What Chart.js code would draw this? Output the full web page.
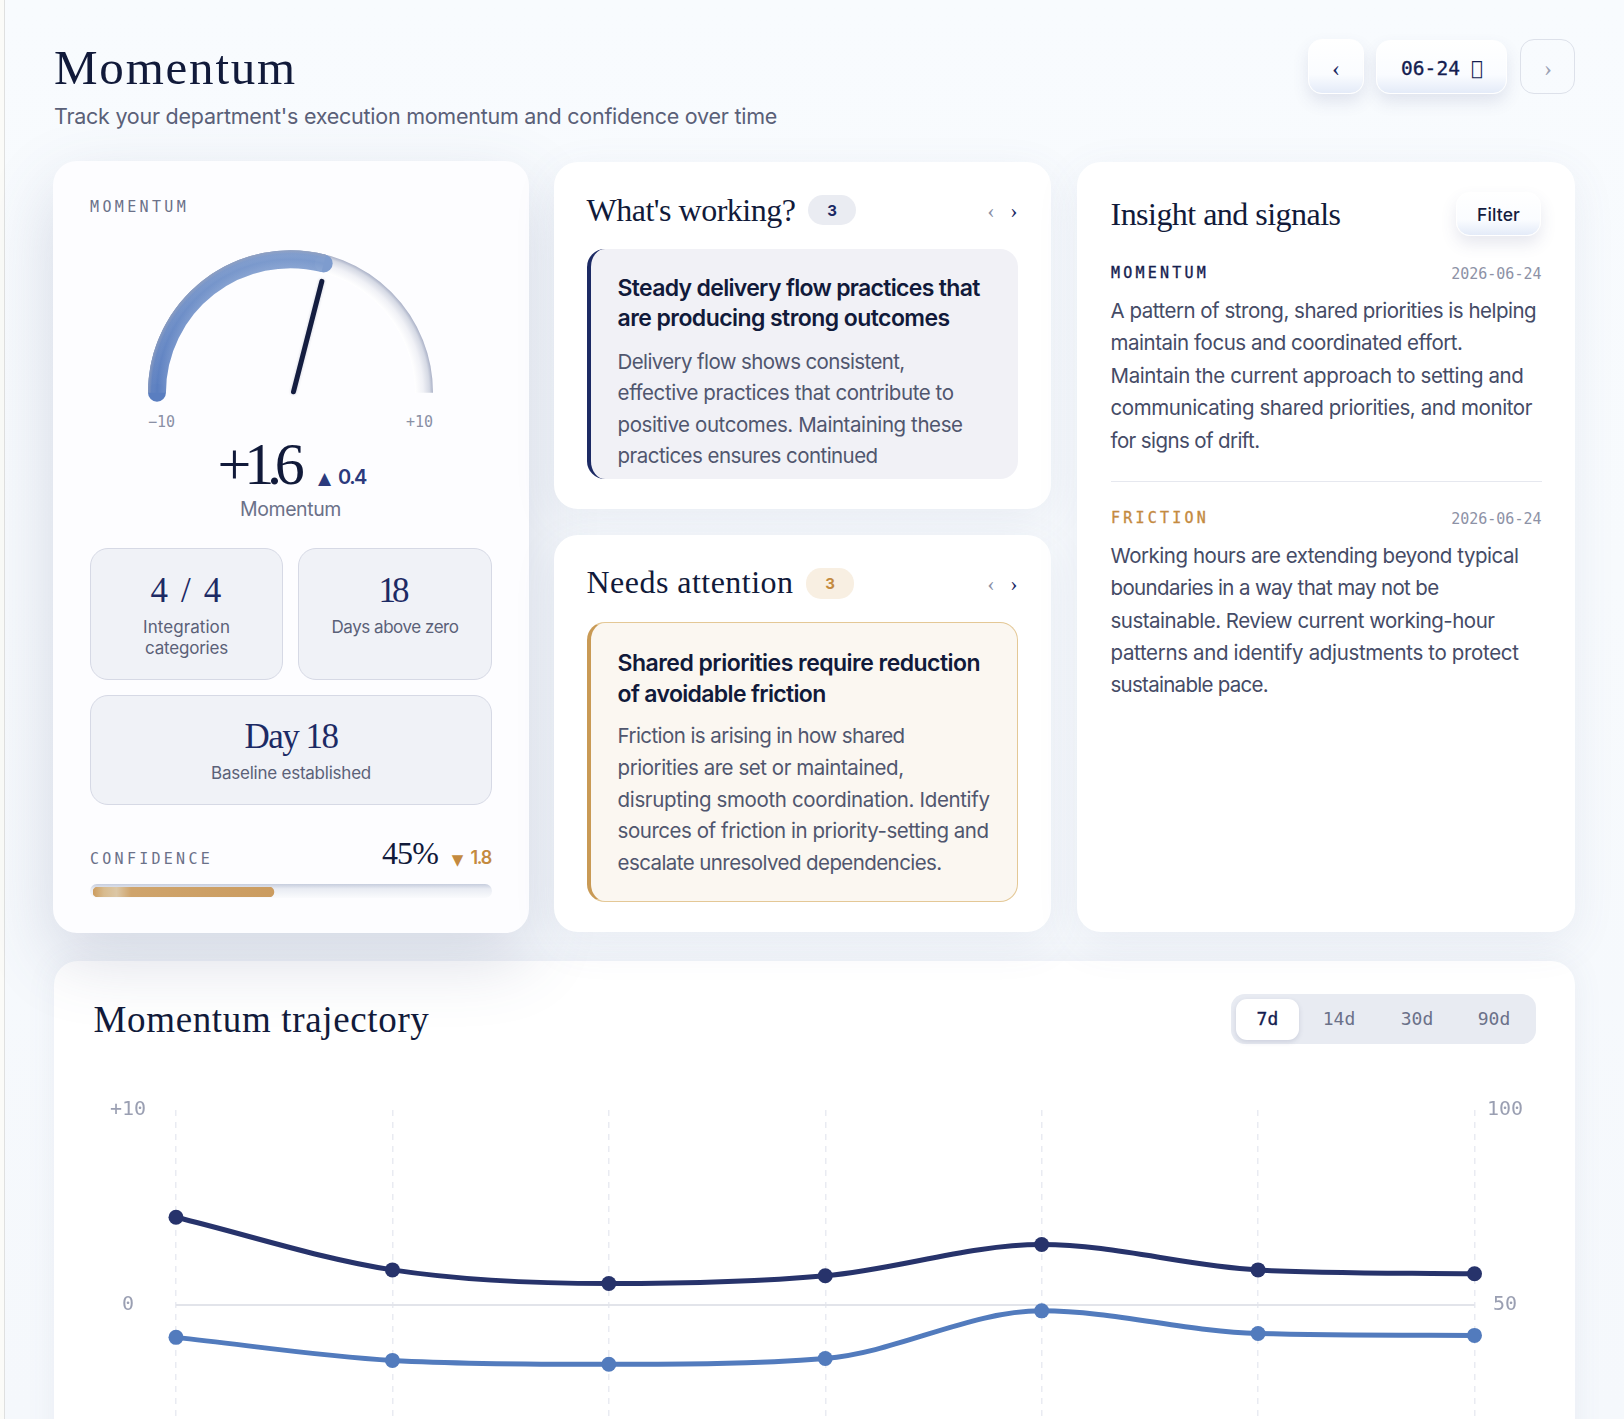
<!DOCTYPE html>
<html><head><meta charset="utf-8">
<script src="https://cdn.jsdelivr.net/npm/chart.js@4"></script>
<style>
html,body{margin:0;padding:0;width:1624px;height:1419px;overflow:hidden;background:#f8fbfe}
#page{position:relative;width:1624px;height:1419px;overflow:hidden;background:linear-gradient(#f8fbfe 0,#f7fafd 40%,#f5f8fc 100%)}
.box{position:absolute;box-sizing:border-box}
.card{background:#fff;border-radius:24px;box-shadow:0 12px 44px rgba(90,100,140,.09)}
.stat{background:#f0f2f7;border:1px solid #d6d9e5;border-radius:18px}
.btn{background:linear-gradient(#fff 0,#fafcff 65%,#e4ebf8 100%);border:1px solid #fff;border-radius:14px;box-shadow:0 8px 16px rgba(70,80,130,.13)}
.t{position:absolute;white-space:nowrap;line-height:normal}
canvas{position:absolute;display:block}
</style></head><body><div id="page">
<div class="box" style="left:0;top:0;width:5px;height:1419px;background:#fbfbf8;border-right:1px solid #dfe0e0"></div>
<div class="box card" style="left:54px;top:961px;width:1521px;height:500px;box-shadow:0 0 30px rgba(90,100,140,.08)"></div>
<div class="box card" style="left:53px;top:161px;width:476px;height:772px;background:#fdfdff;box-shadow:0 26px 70px rgba(70,80,125,.2)"></div>
<div class="box card" style="left:554px;top:162px;width:497px;height:347px"></div>
<div class="box card" style="left:554px;top:535px;width:497px;height:397px"></div>
<div class="box card" style="left:1077px;top:162px;width:498px;height:770px"></div>
<div class="box btn" style="left:1308px;top:39px;width:56px;height:55px"></div>
<div class="box btn" style="left:1376px;top:40px;width:131px;height:54px"></div>
<div class="box" style="left:1520px;top:39px;width:55px;height:55px;border:1px solid #dde1ea;border-radius:14px"></div>
<div class="box stat" style="left:90px;top:548px;width:193px;height:132px"></div>
<div class="box stat" style="left:298px;top:548px;width:194px;height:132px"></div>
<div class="box stat" style="left:90px;top:695px;width:402px;height:110px"></div>
<div class="box" style="left:90px;top:884px;width:402px;height:14px;border-radius:7px;background:linear-gradient(#c6cddd 0,#e9ecf3 35%,#fafbfd 100%)"></div>
<div class="box" style="left:587px;top:249px;width:431px;height:230px;background:#f1f1f6;border-left:4px solid #1c2a64;border-radius:18px"></div>
<div class="box" style="left:587px;top:622px;width:431px;height:280px;background:#fbf7f1;border:1px solid #e4c896;border-left:4px solid #c99a55;border-radius:18px"></div>
<div class="box" style="left:808px;top:195px;width:48px;height:30px;border-radius:15px;background:#eaecf2"></div>
<div class="box" style="left:806px;top:568px;width:48px;height:31px;border-radius:15px;background:#f8efe2"></div>
<div class="box btn" style="left:1456px;top:192px;width:85px;height:44px"></div>
<div class="box" style="left:1111px;top:481px;width:431px;height:1px;background:#e6e8ef"></div>
<div class="box" style="left:1231px;top:994px;width:305px;height:50px;border-radius:14px;background:#e8ebf2"></div>
<div class="box" style="left:1236px;top:999px;width:63px;height:41px;border-radius:11px;background:#fff;box-shadow:0 2px 5px rgba(60,70,110,.16)"></div>
<canvas id="gauge"  width="285" height="153" style="left:148px;top:250px;width:285px;height:153px"></canvas>
<canvas id="confBar" width="402" height="10" style="left:93px;top:887px;width:402px;height:10px"></canvas>
<canvas id="traj" width="1413" height="474" style="left:110px;top:1068px;width:1413px;height:474px"></canvas>
</div>
<script>
// ---------- chart data ----------
const dayLabels      = ['06-18','06-19','06-20','06-21','06-22','06-23','06-24'];
const momentumSeries = [4.5, 1.8, 1.1, 1.5, 3.1, 1.8, 1.6];
const confidenceSeries = [41.7, 35.8, 34.8, 36.3, 48.5, 42.7, 42.2];
const leftTicks  = {'10':'+10','0':'0','-10':'\u221210'};
const rightTicks = {'100':'100','50':'50','0':'0'};
const gaugeValue = 1.6, gaugeMin = -10, gaugeMax = 10;
const confidenceValue = [45];
const confidenceCategory = ['Confidence'];

// ---------- text ----------
const SERIF='"Liberation Serif"', SANS='Inter', MONO='"DejaVu Sans Mono"';
const page=document.getElementById('page');
const mctx=document.createElement('canvas').getContext('2d');
// x = left edge (or centre with a:'c', right edge with a:'r'), b = baseline, w = target width
function T(s,x,b,size,fam,col,o={}){
  const wt=o.weight||400, el=document.createElement('div');
  el.className='t'; el.textContent=s;
  const font=wt+' '+size+'px '+fam;
  mctx.font=font; const m=mctx.measureText(s);
  let ls=0,w=m.width;
  if(o.w){ls=(o.w-m.width)/s.length;w=o.w;}
  const left=o.a==='c'?x-w/2:(o.a==='r'?x-w:x);
  el.style.cssText+=`left:${left}px;top:${b-m.fontBoundingBoxAscent}px;font:${font};color:${col};letter-spacing:${ls}px;`+(o.stroke?`-webkit-text-stroke:${o.stroke}px ${col};`:'');
  page.appendChild(el);
}
const NAVY='#111a3a', DEEP='#1c2a64', BODY='#50566e', MUTE='#6b7189', GOLD='#c48a3f';
T('Momentum',54,83,49,SERIF,NAVY,{w:243});
T("Track your department's execution momentum and confidence over time",54,123.5,21.5,SANS,'#5a6078',{w:723});
T('\u2039',1336,76,24,SERIF,DEEP,{a:'c'});
T('06-24',1401,75,19.5,MONO,'#141d50',{w:59,stroke:.35});
T('\uE000',1471,75,19.5,MONO,'#141d50');
T('\u203A',1548,76,24,SERIF,'#9ca1b3',{a:'c'});
// left card
T('MOMENTUM',90,212,15,MONO,MUTE,{w:99});
T('\u221210',148,427,15,MONO,'#8a90a5');
T('+10',433,427,15,MONO,'#8a90a5',{a:'r'});
T('+1.6',217.5,483,60,SERIF,NAVY,{w:80});
T('\u25B2',324.5,484,17,'"DejaVu Sans"','#2b3a7d',{a:'c'});
T('0.4',338,484,20,SANS,'#2b3a7d',{w:28,weight:600});
T('Momentum',290.5,516,19.5,SANS,MUTE,{a:'c',w:101});
T('4 / 4',187,602,35,SERIF,DEEP,{a:'c',w:73});
T('Integration',186.5,633,17,SANS,'#5b6178',{a:'c',w:87});
T('categories',186.5,654,17,SANS,'#5b6178',{a:'c',w:83});
T('18',392,602,35,SERIF,DEEP,{a:'c',w:27});
T('Days above zero',395,633,17,SANS,'#5b6178',{a:'c',w:127});
T('Day 18',291,748,35,SERIF,DEEP,{a:'c',w:93});
T('Baseline established',291,779,17,SANS,'#5b6178',{a:'c',w:160});
T('CONFIDENCE',90,864,15,MONO,MUTE,{w:123});
T('45%',382,864,32,SERIF,NAVY,{w:56});
T('\u25BC',457.5,865,15,'"DejaVu Sans"',GOLD,{a:'c'});
T('1.8',470.5,864,18,SANS,GOLD,{w:20.5,weight:600});
// what's working
T("What's working?",586.5,220.5,32,SERIF,NAVY,{w:209});
T('3',832,216,15,SANS,DEEP,{a:'c',weight:700});
T('\u2039',991,218,22,SERIF,'#8a90a5',{a:'c'});
T('\u203A',1014,218,22,SERIF,DEEP,{a:'c'});
T('Steady delivery flow practices that',617.6,296,23,SANS,NAVY,{w:362,weight:600});
T('are producing strong outcomes',617.6,326,23,SANS,NAVY,{w:332,weight:600});
[['Delivery flow shows consistent,',369,287],['effective practices that contribute to',400,336],
 ['positive outcomes. Maintaining these',432,345],['practices ensures continued',463,260]]
 .forEach(l=>T(l[0],617.6,l[1],20.5,SANS,BODY,{w:l[2]}));
// needs attention
T('Needs attention',586.5,593,32,SERIF,NAVY,{w:207});
T('3',830,589,15,SANS,GOLD,{a:'c',weight:700});
T('\u2039',991,591,22,SERIF,'#8a90a5',{a:'c'});
T('\u203A',1014,591,22,SERIF,DEEP,{a:'c'});
T('Shared priorities require reduction',617.6,670.5,23,SANS,NAVY,{w:362.5,weight:600});
T('of avoidable friction',617.6,701.5,23,SANS,NAVY,{w:208,weight:600});
[['Friction is arising in how shared',743,287],['priorities are set or maintained,',775,286],
 ['disrupting smooth coordination. Identify',806.5,372],['sources of friction in priority-setting and',837.5,371],
 ['escalate unresolved dependencies.',869.5,324]]
 .forEach(l=>T(l[0],617.6,l[1],20.5,SANS,BODY,{w:l[2]}));
// insight
T('Insight and signals',1110.5,225,32,SERIF,NAVY,{w:230});
T('Filter',1498.5,221,17.5,SANS,'#141d40',{a:'c',w:43,weight:500});
T('MOMENTUM',1111,277.5,15,MONO,'#16214f',{w:98,stroke:.35});
T('2026-06-24',1541.5,278.5,15,MONO,'#8d92a6',{a:'r'});
[['A pattern of strong, shared priorities is helping',318,425.7],['maintain focus and coordinated effort.',350,352],
 ['Maintain the current approach to setting and',383,413],['communicating shared priorities, and monitor',415,421.5],
 ['for signs of drift.',447.5,149]]
 .forEach(l=>T(l[0],1110.5,l[1],20.5,SANS,'#454b66',{w:l[2]}));
T('FRICTION',1111,522.5,15,MONO,GOLD,{w:98,stroke:.35});
T('2026-06-24',1541.5,523.5,15,MONO,'#8d92a6',{a:'r'});
[['Working hours are extending beyond typical',562.5,408],['boundaries in a way that may not be',594.5,328],
 ['sustainable. Review current working-hour',627.5,384],['patterns and identify adjustments to protect',660,408],
 ['sustainable pace.',692,157.5]]
 .forEach(l=>T(l[0],1110.5,l[1],20.5,SANS,'#454b66',{w:l[2]}));
// trajectory
T('Momentum trajectory',93.5,1031,37,SERIF,NAVY,{w:336});
T('7d',1267.4,1025,18,MONO,'#141d50',{a:'c',stroke:.35});
T('14d',1339,1025,18,MONO,MUTE,{a:'c'});
T('30d',1417,1025,18,MONO,MUTE,{a:'c'});
T('90d',1494,1025,18,MONO,MUTE,{a:'c'});

// ---------- gauge ----------
const DEG=Math.PI/180;
const gaugePlugin={id:'gaugeDeco',
  beforeDatasetsDraw(c){
    const a=c.getDatasetMeta(0).data[0]; if(!a) return;
    const x=a.x,y=a.y,R=a.outerRadius,r=a.innerRadius,ctx=c.ctx;
    const g=ctx.createRadialGradient(x,y,r,x,y,R);
    g.addColorStop(0,'#ffffff');g.addColorStop(.45,'#f0f1f6');g.addColorStop(.8,'#d5d9e4');g.addColorStop(1,'#aab1c7');
    ctx.save();ctx.beginPath();ctx.arc(x,y,(R+r)/2,-180*DEG,0);ctx.lineWidth=R-r;ctx.strokeStyle=g;ctx.stroke();ctx.restore();
  },
  afterDatasetsDraw(c){
    const a=c.getDatasetMeta(0).data[0]; if(!a) return;
    const x=a.x,y=a.y,R=a.outerRadius,r=a.innerRadius,ctx=c.ctx,mid=(R+r)/2;
    ctx.save();
    // round caps at both ends of the filled arc
    const cap=(ang,col)=>{ctx.beginPath();ctx.arc(x+mid*Math.cos(ang),y+mid*Math.sin(ang),(R-r)/2,0,2*Math.PI);ctx.fillStyle=col;ctx.fill();};
    cap(a.startAngle,'#5a7ec0');cap(a.endAngle,'#7e9cce');
    // soft rim over the filled part
    const g=ctx.createRadialGradient(x,y,r,x,y,R);
    g.addColorStop(0,'rgba(255,255,255,.12)');g.addColorStop(.5,'rgba(255,255,255,0)');g.addColorStop(.8,'rgba(160,170,195,.1)');g.addColorStop(1,'rgba(150,160,185,.7)');
    ctx.beginPath();ctx.arc(x,y,mid,a.startAngle,a.endAngle);ctx.lineWidth=R-r;ctx.strokeStyle=g;ctx.stroke();
    // needle, angle taken from the value
    const th=Math.PI*(gaugeValue-gaugeMin)/(gaugeMax-gaugeMin), bx=x+3, by=y-1, L=114;
    ctx.beginPath();ctx.moveTo(bx,by);ctx.lineTo(bx-L*Math.cos(th),by-L*Math.sin(th));
    ctx.lineWidth=5;ctx.lineCap='round';ctx.strokeStyle='#141d40';ctx.shadowColor='rgba(40,50,90,.25)';ctx.shadowBlur=3;ctx.stroke();
    ctx.restore();
  }};
new Chart(document.getElementById('gauge'),{type:'doughnut',
  data:{labels:['Value','Remainder'],datasets:[{data:[gaugeValue-gaugeMin,gaugeMax-gaugeValue],
    backgroundColor(ctx){
      if(ctx.dataIndex!==0) return 'rgba(0,0,0,0)';
      const g=ctx.chart.ctx.createLinearGradient(0,142,0,0);
      g.addColorStop(0,'#5a7ec0');g.addColorStop(1,'#7e9cce');return g;},
    borderWidth:0
  }]},
  options:{responsive:false,animation:false,rotation:-90,circumference:180,cutout:'87.4%',
    layout:{padding:{bottom:10}},plugins:{legend:{display:false},tooltip:{enabled:false}}},
  plugins:[gaugePlugin]});

// ---------- confidence bar ----------
new Chart(document.getElementById('confBar'),{type:'bar',
  data:{labels:confidenceCategory,datasets:[{data:confidenceValue,barThickness:10,borderRadius:5,borderSkipped:false,
    backgroundColor(ctx){
      const g=ctx.chart.ctx.createLinearGradient(0,0,181,0);
      g.addColorStop(0,'#cc9c5e');g.addColorStop(.06,'#d8bb8e');g.addColorStop(.13,'#dcc7a6');g.addColorStop(.21,'#cfa46c');g.addColorStop(1,'#cb9c60');return g;}
  }]},
  options:{indexAxis:'y',responsive:false,animation:false,layout:{padding:0},
    scales:{x:{display:false,min:0,max:100},y:{display:false}},
    plugins:{legend:{display:false},tooltip:{enabled:false}}}});

// ---------- trajectory ----------
const axisTick=(m)=>({color:'#9a9fb2',font:{family:MONO,size:20},crossAlign:'center',
  callback:(v)=>m[String(v)]!==undefined?m[String(v)]:''});
const style=(c)=>({borderColor:c,backgroundColor:c,pointBackgroundColor:c,pointBorderColor:c,borderWidth:5,
  pointRadius:7.5,pointBorderWidth:0,pointHoverRadius:7.5,cubicInterpolationMode:'monotone',fill:false,clip:false});
new Chart(document.getElementById('traj'),{type:'line',
  data:{labels:dayLabels,datasets:[
    {label:'Momentum',data:momentumSeries,yAxisID:'y',...style('#27336b')},
    {label:'Confidence',data:confidenceSeries,yAxisID:'y2',...style('#527bbd')}]},
  options:{responsive:false,animation:false,layout:{padding:{top:19,bottom:39,left:0,right:0}},
    scales:{
      x:{offset:false,ticks:{display:false},border:{display:false,dash:[6,6]},
        grid:{color:'#e9ebf2',lineWidth:1.5,drawTicks:false,tickLength:0}},
      y:{position:'left',min:-10,max:10,afterBuildTicks(a){a.ticks=[{value:-10},{value:0},{value:10}];},
        afterFit(a){a.width=66;},
        ticks:{...axisTick(leftTicks),padding:30},border:{display:false},
        grid:{drawTicks:false,tickLength:0,lineWidth:2,color:(c)=>c.tick&&c.tick.value===0?'#e2e4ea':'rgba(0,0,0,0)'}},
      y2:{position:'right',min:0,max:100,afterBuildTicks(a){a.ticks=[{value:0},{value:50},{value:100}];},
        afterFit(a){a.width=48.5;},
        ticks:{...axisTick(rightTicks),padding:12.5},border:{display:false},grid:{display:false,drawTicks:false,tickLength:0}}
    },
    plugins:{legend:{display:false},tooltip:{enabled:false}}}});
</script></body></html>
